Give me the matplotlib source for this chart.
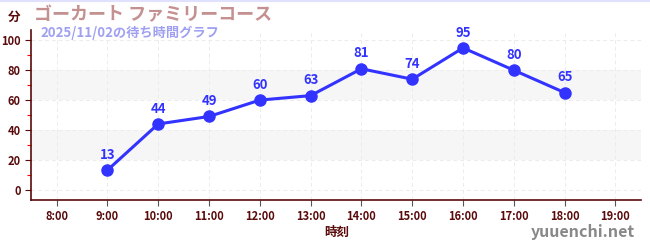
import matplotlib
matplotlib.use("Agg")
import matplotlib.pyplot as plt
from matplotlib.ticker import MultipleLocator

plt.rcParams['font.family'] = ['Noto Sans CJK JP', 'DejaVu Sans']

hours = [9, 10, 11, 12, 13, 14, 15, 16, 17, 18]
waits = [13, 44, 49, 60, 63, 81, 74, 95, 80, 65]
xtick_hours = list(range(8, 20))
xtick_labels = [f"{h}:00" for h in xtick_hours]
yticks = [0, 20, 40, 60, 80, 100]

title = "ゴーカート ファミリーコース"
subtitle = "2025/11/02の待ち時間グラフ"
unit = "分"
xlabel = "時刻"
watermark = "yuuenchi.net"

dark = "#5a0a0a"
line_c = "#3333ff"

fig = plt.figure(figsize=(6.5, 2.5), dpi=100)
ax = fig.add_axes([0.048, 0.2, 0.938, 0.68])

ax.set_xlim(7.5, 19.5)
ax.set_ylim(-7, 107)

for lo, hi in [(20, 40), (60, 80)]:
    ax.axhspan(lo, hi, color="#f6f6f6", zorder=0, lw=0)

ax.set_xticks(xtick_hours)
ax.set_xticklabels(xtick_labels)
ax.set_yticks(yticks)
ax.yaxis.set_minor_locator(MultipleLocator(10))
ax.grid(True, which="major", color="#ececec", linestyle=(0, (4, 3)), lw=0.7, zorder=0)

ax.plot(hours, waits, color=line_c, lw=2.2, marker="o", ms=8, zorder=3)
for h, w in zip(hours, waits):
    ax.annotate(str(w), (h, w), xytext=(0, 6), textcoords="offset points",
                ha="center", va="bottom", color=line_c, fontsize=9.5, fontweight="bold")

for s in ["top", "right"]:
    ax.spines[s].set_visible(False)
for s in ["left", "bottom"]:
    ax.spines[s].set_color(dark)
    ax.spines[s].set_linewidth(1.2)

ax.tick_params(axis="both", which="major", colors=dark, labelsize=8, length=4, width=0.8)
ax.tick_params(axis="x", which="major", colors="#555555", labelcolor=dark)
ax.tick_params(axis="y", which="minor", colors="red", length=3, width=0.8)
for lab in ax.get_xticklabels() + ax.get_yticklabels():
    lab.set_fontweight("bold")

fig.text(0.012, 0.93, unit, color=dark, fontsize=9, fontweight="bold", va="center")
fig.text(0.052, 0.94, title, color="#c49090", fontsize=13, fontweight="bold", va="center")
fig.text(0.062, 0.868, subtitle, color="#a0a0f2", fontsize=9.5, fontweight="bold", va="center")
fig.text(0.518, 0.07, xlabel, color=dark, fontsize=9, fontweight="bold", ha="center", va="center")
fig.text(0.977, 0.07, watermark, color="#888888", fontsize=11.5, fontweight="bold", ha="right", va="center")

fig.add_artist(plt.Line2D([0, 1], [0.998, 0.998], transform=fig.transFigure, color="#e0e0ff", lw=1.5))

fig.savefig("out.png", dpi=100)
